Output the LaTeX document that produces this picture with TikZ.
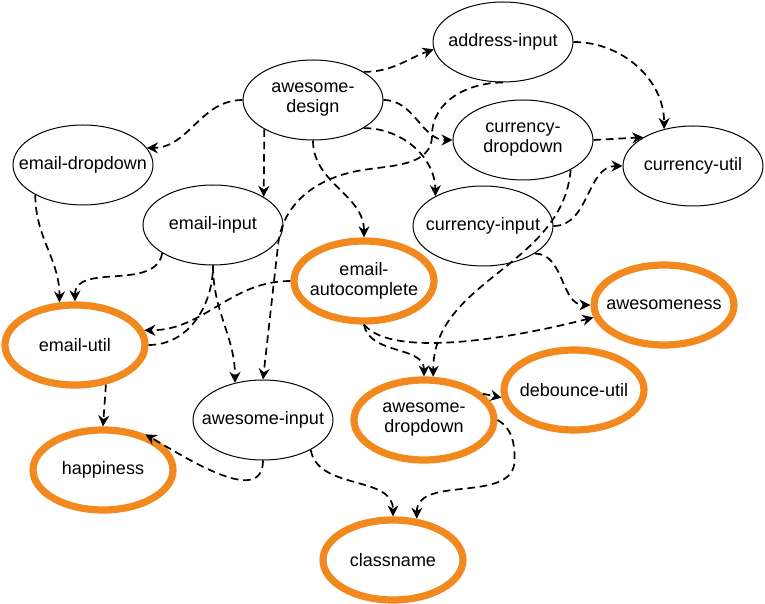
\documentclass[tikz,border=0pt]{standalone}
\usepackage{fontspec}
\setmainfont{Liberation Sans}
\usetikzlibrary{arrows.meta,positioning,shapes.geometric}
\definecolor{hotorange}{RGB}{242,137,30}

\begin{document}
\begin{tikzpicture}[
    font=\fontsize{9}{10}\selectfont,
    on grid,
    pkg/.style={draw, ellipse, line width=0.5pt, align=center, minimum width=70pt, minimum height=40pt, inner xsep=-10pt, inner ysep=0pt},
    hot/.style={pkg, draw=hotorange, line width=3.6pt, outer sep=1.8pt},
    edge/.style={-{Stealth[length=5.5pt, width=5.5pt]}, line width=0.85pt, dash pattern=on 3.8pt off 2.4pt},
    link/.style={line width=0.85pt, dash pattern=on 3.8pt off 2.4pt}
]
\useasboundingbox (-156.5pt,-252pt) rectangle (226pt,50pt);
\node[pkg] (design) {awesome-\\design};
\node[pkg, above right=29pt and 95pt of design] (address) {address-input};
\node[pkg, below left=32.5pt and 115pt of design] (emaildrop) {email-dropdown};
\node[pkg, below right=20pt and 105pt of design] (currdrop) {currency-\\dropdown};
\node[pkg, below right=13pt and 85pt of currdrop] (currutil) {currency-util};
\node[pkg, below left=62.5pt and 50pt of design] (emailin) {email-input};
\node[pkg, below left=43pt and 20pt of currdrop] (currin) {currency-input};
\node[hot, below right=28pt and 75.5pt of emailin] (autocomp) {email-\\autocomplete};
\node[hot, below right=39.5pt and 90.5pt of currin] (awesomeness) {awesomeness};
\node[hot, below left=60pt and 69pt of emailin] (emailutil) {email-util};
\node[pkg, below right=97.5pt and 25pt of emailin] (awinput) {awesome-input};
\node[hot, right=80.5pt of awinput] (awdrop) {awesome-\\dropdown};
\node[hot, above right=15pt and 75pt of awdrop] (debounce) {debounce-util};
\node[hot, below right=62.5pt and 14pt of emailutil] (happiness) {happiness};
\node[hot, below right=70pt and 65pt of awinput] (classname) {classname};
% awesome-design
\draw[edge] (design.west) to[out=180,in=0] (emaildrop.15);
\draw[edge] (design.29) to[out=0,in=200] (address.186);
\draw[edge] (design.east) to[out=0,in=180] (currdrop.west);
\draw[edge] (design.331) to[out=0,in=90] (currin.148);
\draw[edge] (design.211) -- (emailin.29);
\draw[edge] (design.south) to[out=-90,in=90] (autocomp.north);
% currency
\draw[edge] (address.east) to[out=0,in=90] (currutil.128);
\draw[edge] (currdrop.east) -- (currutil.150);
\draw[edge] (currin.east) to[out=0,in=180] (currutil.west);
\draw[edge] (currdrop.328) to[out=-95,in=90] (awdrop.78);
\draw[edge] (currin.332) to[out=0,in=180] (awesomeness.west);
\draw[edge] (address.south) to[out=180,in=90] ++(-35.5pt,-26.5pt) to[out=-90,in=10] ++(-36pt,-17.5pt) to[out=190,in=84] ++(-41pt,-37.5pt) -- (awinput.north);
% email
\draw[edge] (autocomp.south) .. controls +(15pt,-18pt) and +(-35pt,-9pt) .. (awesomeness.190);
\draw[edge] (autocomp.south) to[out=-80,in=90] (awdrop.north);
\draw[edge] (emaildrop.212) to[out=-90,in=90] (emailutil.110);
\draw[edge] (emailin.209) to[out=-100,in=90] (emailutil.north);
\draw[edge] (emailin.south) to[out=-90,in=90] (awinput.127);
\draw[edge] (autocomp.west) to[out=180,in=0] (emailutil.12);
\draw[link] (emailutil.east) to[out=0,in=-90] (emailin.south);
% awesome
\draw[edge] (awdrop.24) -- (debounce.186);
\draw[edge] (awdrop.east) to[out=-30,in=90] ++(8.5pt,-20pt) to[out=-90,in=90] (classname.60);
\draw[edge] (awinput.328) to[out=-80,in=90] (classname.north);
\draw[edge] (awinput.south) to[out=-90,in=-30] (happiness.40);
\draw[edge] (emailutil.-52) -- (happiness.north);
\end{tikzpicture}
\end{document}
